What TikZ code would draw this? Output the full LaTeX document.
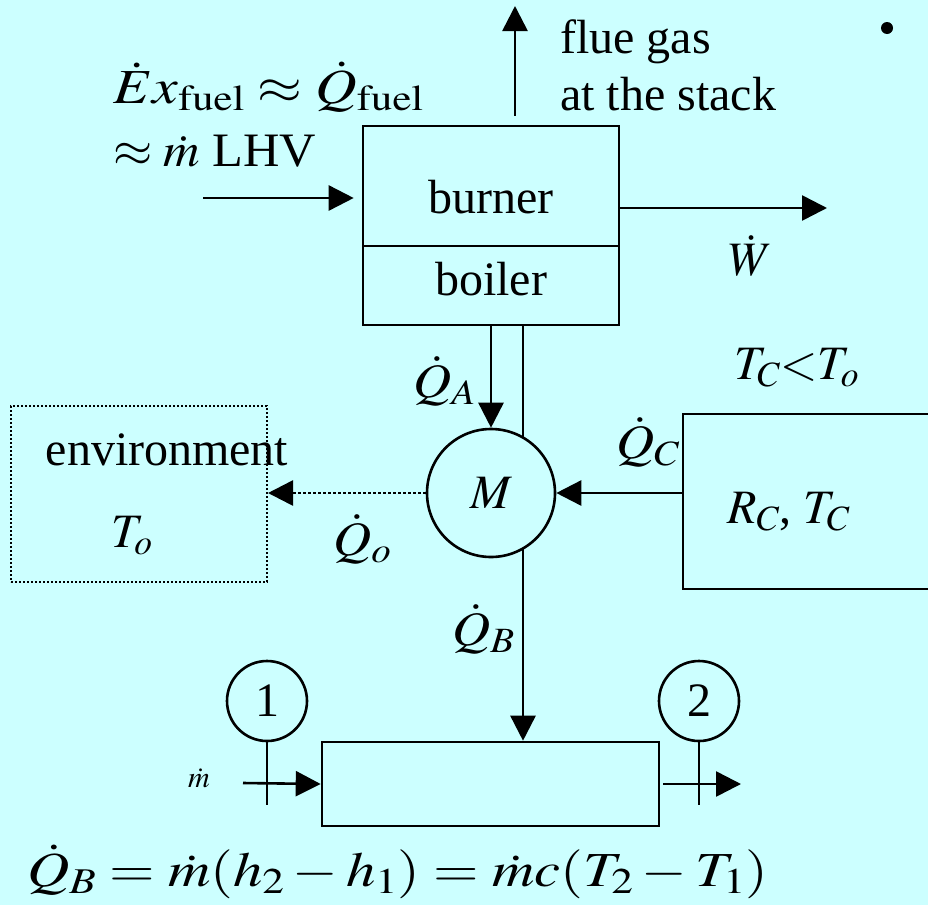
\documentclass[tikz,border=0pt]{standalone}
\usepackage{mathptmx}
\usepackage{fontspec}
\setmainfont{Liberation Serif}
\usetikzlibrary{arrows.meta}
\definecolor{bg}{HTML}{CCFFFF}
\tikzset{
  lbl/.style={inner sep=0pt, font=\fontsize{48}{58}\selectfont},
  box/.style={draw, line width=2.6pt, rectangle, inner sep=0pt},
  dotbox/.style={draw, line width=2pt, dash pattern=on 2pt off 2pt, rectangle, inner sep=0pt},
  ring/.style={draw, line width=2.6pt, circle, fill=bg, inner sep=0pt, font=\fontsize{48}{58}\selectfont},
  arr/.style={line width=2.6pt, -{Triangle[length=25pt,width=25pt]}},
  stem/.style={line width=2.6pt},
}
\begin{document}
\begin{tikzpicture}[x=1pt,y=-1pt]
\fill[bg] (0,0) rectangle (928,905);
\useasboundingbox (0,0) rectangle (928,905);
\clip (0,0) rectangle (928,905);

% boxes
\node[box, minimum width=256pt, minimum height=120pt] (burner) at (491,186) {};
\node[box, minimum width=256pt, minimum height=79pt] (boiler) at (491,285.5) {};
\node[dotbox, minimum width=256pt, minimum height=176pt] (env) at (139,494) {};
\node[box, minimum width=267pt, minimum height=175pt] (rc) at (816.5,501.5) {};
\node[box, minimum width=337pt, minimum height=84pt] (heater) at (490.5,784) {};

% box texts
\node[lbl, anchor=base] (tburner) at (491,213) {burner};
\node[lbl, anchor=base] (tboiler) at (491,295) {boiler};
\node[lbl, anchor=base] (tenv) at (167,465) {environment};
\node[lbl, anchor=base] (tto) at (132,547) {$T_o$};
\node[lbl, anchor=base west] (trc) at (727,523) {$R_C$, $T_C$};

% coordinates
\coordinate (fuelS) at (203,198);
\coordinate (flueE) at (515,6);
\coordinate (wE) at (827,208);
\coordinate (qb) at (523,0);
\coordinate (inS) at (243,783);
\coordinate (outE) at (741,784);
\coordinate (c1e) at (267,805);
\coordinate (c2e) at (699,805);

% Q_B line (behind M)
\draw[arr] (boiler.south -| qb) -- (heater.north -| qb);

% mixer
\node[ring, minimum size=128pt] (M) at (491,493) {$M$};

% connectors
\draw[arr, shorten >=8pt] (fuelS) -- (burner.west |- fuelS);
\draw[arr, shorten <=9pt] (burner.north -| flueE) -- (flueE);
\draw[arr] (burner.east |- wE) -- (wE);
\draw[arr] (boiler.south -| M) -- (M.north);
\draw[arr, dash pattern=on 2.5pt off 2.5pt] (M.west) -- (env.east |- M);
\draw[arr] (rc.west |- M) -- (M.east);

% state points
\node[ring, minimum size=80pt] (c1) at (267,701) {1};
\node[ring, minimum size=80pt] (c2) at (699,701) {2};
\draw[stem] (c1.south) -- (c1e);
\draw[stem] (c2.south) -- (c2e);
\draw[arr] (inS) -- (heater.west);
\draw[arr] ([xshift=3pt]heater.east) -- (outE);

% labels
\node[lbl, anchor=base west] (tfuel1) at (113,103) {\scalebox{1.2}[1.02]{$\dot{E}x_{\mathrm{fuel}} \approx \dot{Q}_{\mathrm{fuel}}$}};
\node[lbl, anchor=base west] (tfuel2) at (113,166) {\scalebox{1.05}[1]{$\approx \dot{m}$ LHV}};
\node[lbl, anchor=base west] (tflue1) at (560,53) {flue gas};
\node[lbl, anchor=base west] (tflue2) at (560,110) {at the stack};
\node[lbl, anchor=base] (tw) at (751,275) {$\dot{W}$};
\node[lbl, anchor=base west] (tqa) at (413,397) {\scalebox{1.1}[1]{$\dot{Q}_A$}};
\node[lbl, anchor=base west] (tqo) at (333,555) {\scalebox{1.1}[1]{$\dot{Q}_o$}};
\node[lbl, anchor=base west] (tqc) at (616,458) {\scalebox{1.1}[1]{$\dot{Q}_C$}};
\node[lbl, anchor=base west] (tqb) at (452,645) {\scalebox{1.1}[1]{$\dot{Q}_B$}};
\node[lbl, anchor=base west] (tcmp) at (734,379) {$T_C{<}T_o$};
\node[inner sep=0pt, font=\fontsize{30}{36}\selectfont, anchor=base west] (tm) at (188,787) {$\dot{m}$};
\node[lbl, anchor=base west] (teq) at (27,886) {\scalebox{1.22}[1.02]{$\dot{Q}_B = \dot{m}(h_2 - h_1) = \dot{m}c(T_2 - T_1)$}};
\node[circle, fill=black, inner sep=0pt, minimum size=12pt] (bullet) at (887,28) {};
\end{tikzpicture}
\end{document}
